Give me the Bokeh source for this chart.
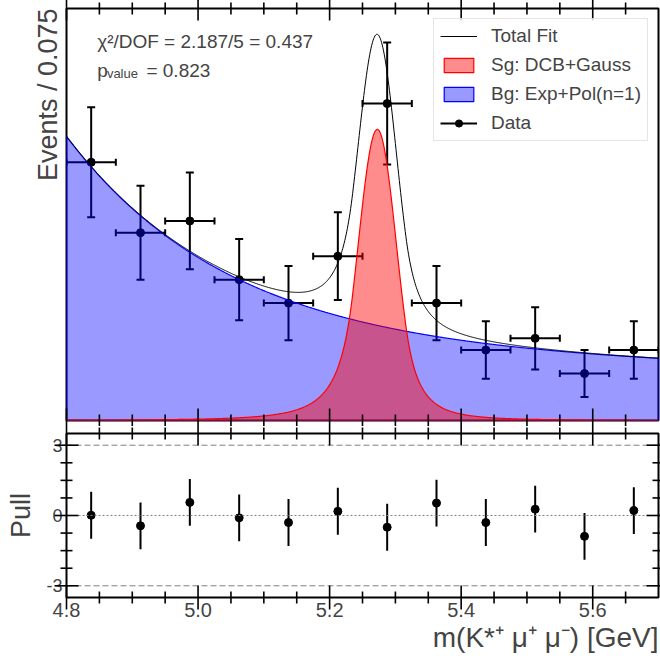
import numpy as np
from bokeh.plotting import figure
from bokeh.models import (ColumnDataSource, Whisker, TeeHead, Span, Label, Title, Legend,
                          LegendItem, LinearAxis, FixedTicker, PrintfTickFormatter, Range1d, Grid)
from bokeh.layouts import column
from bokeh.embed import file_html
from bokeh.resources import INLINE

# ---------------- data ----------------
bin_centers = [4.8375, 4.9125, 4.9875, 5.0625, 5.1375, 5.2125,
               5.2875, 5.3625, 5.4375, 5.5125, 5.5875, 5.6625]
bin_half_width = 0.0375
events = [22, 16, 17, 12, 10, 14, 27, 10, 6, 7, 4, 6]
pulls = [0.01, -0.44, 0.56, -0.10, -0.30, 0.18, -0.50, 0.53, -0.30, 0.27, -0.89, 0.21]
pull_errors = [1.0] * 12

x_major_ticks = [4.8, 5.0, 5.2, 5.4, 5.6]
x_minor_ticks = [4.85, 4.9, 4.95, 5.05, 5.1, 5.15, 5.25, 5.3, 5.35,
                 5.45, 5.5, 5.55, 5.65]
pull_major_ticks = [-3.0, 0.0, 3.0]
pull_minor_ticks = [-2.25, -1.5, -0.75, 0.75, 1.5, 2.25]

# fitted model parameters (per-bin yield units)
sig_mean = 5.2725
sig_sigma = 0.029
sig_alpha_left, sig_n_left = 1.3, 3.0
sig_alpha_right, sig_n_right = 1.5, 3.0
sig_peak = 24.8
bg_exp_amp = 18.25
bg_exp_slope = 4.0
bg_pol_c0 = 5.95
bg_pol_c1 = -1.28
x_lo, x_hi = 4.8, 5.7
y_bot, y_top = 0.0, 35.1
pull_lo, pull_hi = -3.5, 3.5

FONT = "Liberation Sans"

# layout (pixels)
W = 660
BORDER_L, BORDER_R = 66, 2
MAIN_H, MAIN_TOP, MAIN_BOT = 426, 8, 6
PULL_H, PULL_TOP, PULL_BOT = 241, 7, 70
MAJOR_LEN, MINOR_LEN = 12, 6
TICK_W = 1.6


def dcb(x):
    z = (x - sig_mean) / sig_sigma
    out = np.exp(-0.5 * z * z)
    aL, nL = sig_alpha_left, sig_n_left
    aR, nR = sig_alpha_right, sig_n_right
    AL = (nL / aL) ** nL * np.exp(-0.5 * aL * aL)
    BL = nL / aL - aL
    AR = (nR / aR) ** nR * np.exp(-0.5 * aR * aR)
    BR = nR / aR - aR
    mL = z < -aL
    mR = z > aR
    out[mL] = AL * (BL - z[mL]) ** (-nL)
    out[mR] = AR * (BR + z[mR]) ** (-nR)
    return sig_peak * out


def background(x):
    t = x - x_lo
    return bg_exp_amp * np.exp(-bg_exp_slope * t) + bg_pol_c0 + bg_pol_c1 * t


xs = np.linspace(x_lo, x_hi, 901)
bg_curve = background(xs)
sig_curve = dcb(xs)
tot_curve = bg_curve + sig_curve

ev = np.array(events, dtype=float)
err = np.sqrt(ev)
bc = np.array(bin_centers, dtype=float)
src = ColumnDataSource(dict(x=bc, y=ev, y_lo=ev - err, y_hi=ev + err,
                            x_lo=bc - bin_half_width, x_hi=bc + bin_half_width))

pl = np.array(pulls, dtype=float)
pe = np.array(pull_errors, dtype=float)
psrc = ColumnDataSource(dict(x=bc, y=pl, lo=pl - pe, hi=pl + pe))


def hide_grids(fig):
    for r in fig.center:
        if isinstance(r, Grid):
            r.visible = False


def x_tick_marks(fig, ybot, ytop):
    # filled bars centred on the frame edge; the frame clips the outer half
    for ticks, ln in ((x_major_ticks, MAJOR_LEN), (x_minor_ticks, MINOR_LEN)):
        t = np.array(ticks, dtype=float)
        n = len(t)
        for yv in (ybot, ytop):
            fig.rect(x=t, y=np.full(n, float(yv)), width=TICK_W, height=2 * ln,
                     width_units="screen", height_units="screen",
                     fill_color="black", line_color=None, level="overlay")


def y_tick_marks(fig):
    for ticks, ln in ((pull_major_ticks, MAJOR_LEN), (pull_minor_ticks, MINOR_LEN)):
        t = np.array(ticks, dtype=float)
        n = len(t)
        for xv in (x_lo, x_hi):
            fig.rect(x=np.full(n, float(xv)), y=t, width=2 * ln, height=TICK_W,
                     width_units="screen", height_units="screen",
                     fill_color="black", line_color=None, level="overlay")


# ---------------- main panel ----------------
p = figure(width=W, height=MAIN_H, x_range=Range1d(x_lo, x_hi), y_range=Range1d(y_bot, y_top),
           output_backend="svg", toolbar_location=None,
           x_axis_location=None, y_axis_location=None,
           min_border_left=BORDER_L, min_border_right=BORDER_R,
           min_border_top=MAIN_TOP, min_border_bottom=MAIN_BOT)
hide_grids(p)
p.outline_line_color = "black"
p.outline_line_width = 2

ytitle = Title(text="Events / 0.075", align="right", text_font_size="27px",
               text_font_style="normal", text_font=FONT, standoff=8)
p.add_layout(ytitle, "left")

# data (drawn under the fills)
r_vseg = p.segment(x0="x", y0="y_lo", x1="x", y1="y_hi", source=src,
                   line_color="black", line_width=2, level="underlay")
r_hseg = p.segment(x0="x_lo", y0="y", x1="x_hi", y1="y", source=src,
                   line_color="black", line_width=2, level="underlay")
vw = Whisker(source=src, base="x", lower="y_lo", upper="y_hi", dimension="height",
             line_alpha=0,
             lower_head=TeeHead(size=8, line_width=2, line_color="black"),
             upper_head=TeeHead(size=8, line_width=2, line_color="black"), level="underlay")
hw = Whisker(source=src, base="y", lower="x_lo", upper="x_hi", dimension="width",
             line_alpha=0,
             lower_head=TeeHead(size=7, line_width=2, line_color="black"),
             upper_head=TeeHead(size=7, line_width=2, line_color="black"), level="underlay")
p.add_layout(vw)
p.add_layout(hw)
r_dots = p.scatter("x", "y", source=src, size=8, color="black", level="underlay")

bx = np.concatenate([xs, [x_hi, x_lo]])
r_bg = p.patch(bx, np.concatenate([bg_curve, [0.0, 0.0]]), fill_color="blue", fill_alpha=0.4,
               line_color="blue", line_width=1.2)
r_sig = p.patch(bx, np.concatenate([sig_curve, [0.0, 0.0]]), fill_color="red", fill_alpha=0.45,
                line_color="red", line_width=1.2)
r_tot = p.line(xs, tot_curve, line_color="black", line_width=1)

x_tick_marks(p, y_bot, y_top)

legend = Legend(items=[
    LegendItem(label="Total Fit", renderers=[r_tot]),
    LegendItem(label="Sg: DCB+Gauss", renderers=[r_sig]),
    LegendItem(label="Bg: Exp+Pol(n=1)", renderers=[r_bg]),
    LegendItem(label="Data", renderers=[r_hseg, r_dots]),
], location="top_right")
legend.margin = 10
legend.padding = 6
legend.spacing = 7
legend.glyph_width = 37
legend.glyph_height = 18
legend.label_height = 22
legend.label_standoff = 14
legend.label_text_font = FONT
legend.label_text_font_size = "19px"
legend.border_line_color = "#cccccc"
legend.border_line_width = 1
legend.background_fill_color = "white"
legend.background_fill_alpha = 0.8
p.add_layout(legend)

p.add_layout(Label(x=4.8466, y=32.3, text="χ²/DOF = 2.187/5 = 0.437", text_font=FONT,
                   text_font_size="19px", text_baseline="alphabetic"))
p.add_layout(Label(x=4.8466, y=29.8, text="p", text_font=FONT,
                   text_font_size="19px", text_baseline="alphabetic"))
p.add_layout(Label(x=4.8614, y=29.55, text="value", text_font=FONT,
                   text_font_size="13px", text_baseline="alphabetic"))
p.add_layout(Label(x=4.9215, y=29.8, text="= 0.823", text_font=FONT,
                   text_font_size="19px", text_baseline="alphabetic"))

# ---------------- pull panel ----------------
q = figure(width=W, height=PULL_H, x_range=p.x_range, y_range=Range1d(pull_lo, pull_hi),
           output_backend="svg", toolbar_location=None,
           x_axis_location=None, y_axis_location=None,
           min_border_left=BORDER_L, min_border_right=BORDER_R,
           min_border_top=PULL_TOP, min_border_bottom=PULL_BOT)
hide_grids(q)
q.outline_line_color = "black"
q.outline_line_width = 2

xax = LinearAxis(ticker=FixedTicker(ticks=x_major_ticks),
                 formatter=PrintfTickFormatter(format="%.1f"))
xax.axis_line_color = None
xax.major_tick_line_color = None
xax.major_tick_in = 0
xax.major_tick_out = 0
xax.minor_tick_line_color = None
xax.major_label_text_font = FONT
xax.major_label_text_font_size = "20px"
xax.major_label_standoff = 5
q.add_layout(xax, "below")

yax = LinearAxis(ticker=FixedTicker(ticks=pull_major_ticks),
                 formatter=PrintfTickFormatter(format="%d"))
yax.axis_line_color = None
yax.major_tick_line_color = None
yax.major_tick_in = 0
yax.major_tick_out = 0
yax.minor_tick_line_color = None
yax.major_label_text_font = FONT
yax.major_label_text_font_size = "18px"
yax.major_label_standoff = 4
yax.axis_label = "Pull"
yax.axis_label_text_font = FONT
yax.axis_label_text_font_size = "27px"
yax.axis_label_text_font_style = "normal"
yax.axis_label_standoff = 7
q.add_layout(yax, "left")

xtitle = Title(text="m(K*⁺ μ⁺ μ⁻) [GeV]", align="right", text_font_size="28px",
               text_font_style="normal", text_font=FONT, standoff=0)
q.add_layout(xtitle, "below")

for loc in (3, -3):
    q.add_layout(Span(location=loc, dimension="width", line_color="#808080",
                      line_dash="6 3", line_width=1))
q.add_layout(Span(location=0, dimension="width", line_color="#808080",
                  line_dash="2 2", line_width=1))

q.segment(x0="x", y0="lo", x1="x", y1="hi", source=psrc, line_color="black", line_width=2)
q.scatter("x", "y", source=psrc, size=8, color="black")

x_tick_marks(q, pull_lo, pull_hi)
y_tick_marks(q)

layout = column(p, q, spacing=0)
open("out.html", "w").write(file_html(layout, INLINE))
